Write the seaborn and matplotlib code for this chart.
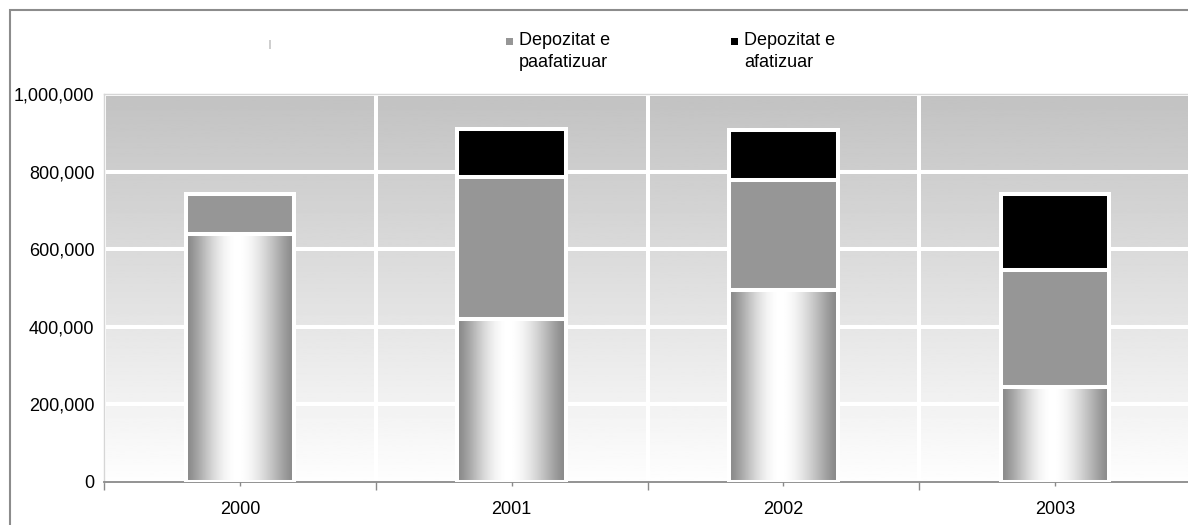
import numpy as np
import pandas as pd
import matplotlib
matplotlib.use('Agg')
import matplotlib.pyplot as plt
import seaborn as sns
from matplotlib.patches import Rectangle
from matplotlib.ticker import FuncFormatter, FixedLocator

# ---- data ----
years = ['2000', '2001', '2002', '2003']
base_values = [640000, 419000, 495000, 244000]      # unnamed gradient series
paafatizuar = [102000, 368000, 283000, 302000]      # Depozitat e paafatizuar
afatizuar = [0, 123000, 129000, 196000]             # Depozitat e afatizuar
legend_labels = ['', 'Depozitat e\npaafatizuar', 'Depozitat e\nafatizuar']
y_ticks = [0, 200000, 400000, 600000, 800000, 1000000]

sns.set_theme(style='white')
plt.rcParams['font.family'] = ['Liberation Sans', 'DejaVu Sans']

W, H = 1188, 525
fig = plt.figure(figsize=(W / 100, H / 100), dpi=100)
ax = fig.add_axes([104 / W, (H - 482) / H, 1087 / W, 388 / H])

df = pd.DataFrame({'year': years, 'base': base_values,
                   'paa': paafatizuar, 'afa': afatizuar})
df['lvl2'] = df['base'] + df['paa']
df['lvl3'] = df['lvl2'] + df['afa']

edge_lw = 2.9
bar_w = 0.4

sns.barplot(data=df, x='year', y='lvl3', color='black', width=bar_w, saturation=1,
            edgecolor='white', linewidth=edge_lw, errorbar=None, ax=ax, zorder=2)
sns.barplot(data=df, x='year', y='lvl2', color='#969696', width=bar_w, saturation=1,
            edgecolor='white', linewidth=edge_lw, errorbar=None, ax=ax, zorder=2)
n_before = len(ax.patches)
sns.barplot(data=df, x='year', y='base', color='#a0a0a0', width=bar_w, saturation=1,
            edgecolor='white', linewidth=edge_lw, errorbar=None, ax=ax, zorder=2)
base_patches = ax.patches[n_before:]

# horizontal metallic gradient for the base series
t = np.linspace(0, 1, 200)
peak = 0.47
prof = np.where(t < peak, t / peak, (1 - t) / (1 - peak))
prof = np.sin(prof * np.pi / 2) ** 1.3
grad = (0.53 + 0.47 * prof).reshape(1, -1)
for p in base_patches:
    x0, w, h = p.get_x(), p.get_width(), p.get_height()
    im = ax.imshow(grad, extent=(x0, x0 + w, 0, h), aspect='auto', cmap='gray',
                   vmin=0, vmax=1, zorder=2.5, interpolation='bilinear')
    im.set_clip_path(p)
    p.set_facecolor('none')
    p.set_zorder(3)

# plot-area vertical gradient background
bg = np.linspace(0.995, 0.76, 256).reshape(-1, 1)
ax.imshow(bg, extent=(-0.5, 3.5, 0, 1e6), origin='lower', aspect='auto',
          cmap='gray', vmin=0, vmax=1, zorder=0)

ax.set_xlim(-0.5, 3.5)
ax.set_ylim(0, 1000000)
ax.set_aspect('auto')

ax.set_axisbelow(True)
ax.yaxis.set_major_locator(FixedLocator(y_ticks))
ax.yaxis.set_major_formatter(FuncFormatter(lambda v, _: f'{int(v):,}'))
ax.xaxis.set_minor_locator(FixedLocator([-0.5, 0.5, 1.5, 2.5, 3.5]))
ax.yaxis.grid(True, which='major', color='white', linewidth=2.9)
ax.xaxis.grid(True, which='minor', color='white', linewidth=2.9)
ax.xaxis.grid(False, which='major')

ax.set_xlabel('')
ax.set_ylabel('')

for s in ['top', 'left']:
    ax.spines[s].set_color('#d6d6d6')
    ax.spines[s].set_linewidth(1)
ax.spines['right'].set_visible(False)
ax.spines['bottom'].set_color('#8a8a8a')
ax.spines['bottom'].set_linewidth(1.3)

ax.tick_params(axis='x', which='major', bottom=True, length=3, width=1,
               color='#8a8a8a', pad=10.5, labelsize=13, labelcolor='black')
ax.tick_params(axis='x', which='minor', bottom=True, length=6, width=1,
               color='#8a8a8a')
ax.tick_params(axis='y', which='both', left=False, length=0, pad=7,
               labelsize=13, labelcolor='black')

# legend (manual placement, top of chart)
leg_colors = ['#cfcfcf', '#969696', '#000000']
leg_marker_x = [269, 506, 731]
leg_text_x = [None, 519, 744]
for lab, col, mx, tx in zip(legend_labels, leg_colors, leg_marker_x, leg_text_x):
    if lab == '':
        fig.add_artist(Rectangle((mx / W, 1 - 49 / H), 2 / W, 9 / H,
                                 transform=fig.transFigure, color=col, lw=0))
    else:
        fig.add_artist(Rectangle((mx / W, 1 - 45 / H), 7 / W, 7 / H,
                                 transform=fig.transFigure, color=col, lw=0))
        fig.text(tx / W, 1 - 32 / H, lab, fontsize=13, va='top', ha='left',
                 color='black', linespacing=1.4)

# outer chart border
fig.add_artist(Rectangle((10 / W, -0.1), 1.2, (H - 10) / H + 0.1,
                         transform=fig.transFigure, fill=False,
                         edgecolor='#8c8c8c', linewidth=1.5))

fig.savefig('out.png', dpi=100)
